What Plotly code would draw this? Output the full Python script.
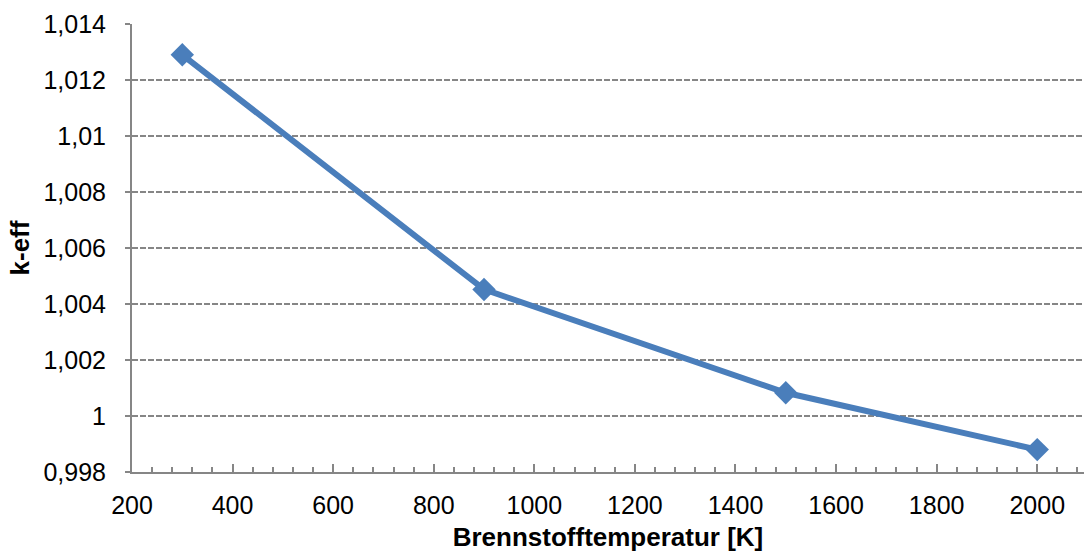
import plotly.graph_objects as go

temperatures = [300, 900, 1500, 2000]
k_eff = [1.01290, 1.00452, 1.00083, 0.99880]

x_ticks = [200, 400, 600, 800, 1000, 1200, 1400, 1600, 1800, 2000]
x_tick_labels = [str(v) for v in x_ticks]
y_ticks = [0.998, 1.000, 1.002, 1.004, 1.006, 1.008, 1.010, 1.012, 1.014]
y_tick_labels = ["0,998", "1", "1,002", "1,004", "1,006", "1,008", "1,01", "1,012", "1,014"]

blue = "#4A7EBB"
grey = "#868686"
font_family = "Liberation Sans, Arial, sans-serif"

fig = go.Figure()
fig.add_trace(go.Scatter(
    x=temperatures, y=k_eff, mode="lines+markers",
    line=dict(color=blue, width=6),
    marker=dict(symbol="diamond", size=18, color=blue),
    showlegend=False, cliponaxis=False,
))

fig.update_layout(
    width=1084, height=560,
    margin=dict(l=132, r=0, t=24, b=88),
    paper_bgcolor="white", plot_bgcolor="white",
    font=dict(family=font_family, size=25, color="black"),
    xaxis=dict(
        range=[200, 2093], tickvals=x_ticks, ticktext=x_tick_labels,
        showline=True, linecolor=grey, linewidth=2,
        ticks="inside", ticklen=8, tickwidth=2, tickcolor=grey,
        minor=dict(dtick=40, tick0=200, ticks="inside", ticklen=5, tickwidth=1.5, tickcolor=grey, showgrid=False),
        showgrid=False, zeroline=False,
        ticklabelstandoff=10,
        title=dict(text="<b>Brennstofftemperatur [K]</b>", font=dict(size=26), standoff=10),
    ),
    yaxis=dict(
        range=[0.998, 1.014], tickvals=y_ticks, ticktext=y_tick_labels,
        showline=True, linecolor=grey, linewidth=2,
        ticks="outside", ticklen=5, tickwidth=1.5, tickcolor=grey,
        showgrid=True, gridcolor=grey, gridwidth=2, griddash="6px,2px",
        zeroline=False,
        ticklabelstandoff=14,
        title=dict(text="<b>k-eff</b>", font=dict(size=26), standoff=6),
    ),
)

fig.write_html("out.html")
